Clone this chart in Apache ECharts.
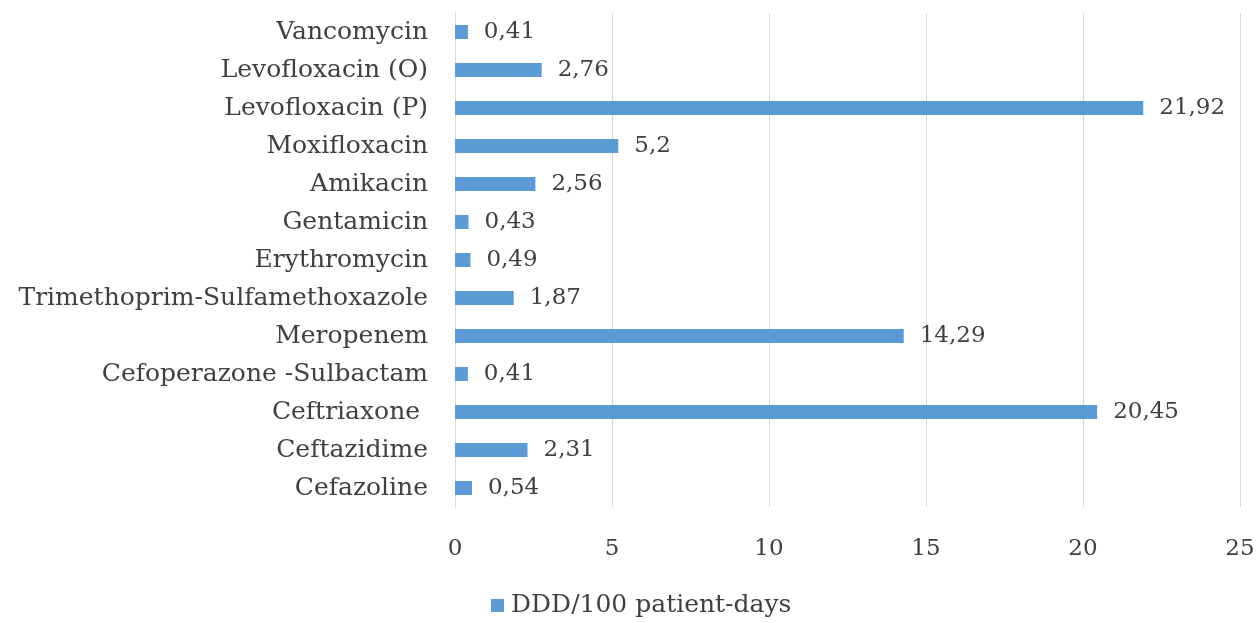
<!DOCTYPE html>
<html>
<head>
<meta charset="utf-8">
<script src="https://cdn.jsdelivr.net/npm/echarts@6/dist/echarts.min.js"></script>
<style>
  html, body { margin: 0; padding: 0; background: #fff; }
  #chart { width: 1258px; height: 623px; }
</style>
</head>
<body>
<div id="chart"></div>
<script>
// Antibiotic consumption, listed bottom-to-top as drawn on the category axis
const drugs = [
  'Cefazoline', 'Ceftazidime', 'Ceftriaxone ', 'Cefoperazone -Sulbactam',
  'Meropenem', 'Trimethoprim-Sulfamethoxazole', 'Erythromycin', 'Gentamicin',
  'Amikacin', 'Moxifloxacin', 'Levofloxacin (P)', 'Levofloxacin (O)', 'Vancomycin'
];
const dddValues = [0.54, 2.31, 20.45, 0.41, 14.29, 1.87, 0.49, 0.43, 2.56, 5.2, 21.92, 2.76, 0.41];
const seriesName = 'DDD/100 patient-days';
const xTicks = { min: 0, max: 25, interval: 5 };

const FONT = '"DejaVu Serif", "Liberation Serif", serif';
const TEXT = '#404040';
const BLUE = '#5B9BD5';

const chart = echarts.init(document.getElementById('chart'), null, { renderer: 'canvas' });
chart.setOption({
  animation: false,
  textStyle: { fontFamily: FONT },
  grid: { left: 455, right: 18, top: 13, bottom: 116, containLabel: false },
  legend: {
    bottom: 0,
    left: 486,
    itemWidth: 13,
    itemHeight: 13,
    itemGap: 4,
    icon: 'rect',
    textStyle: { fontFamily: FONT, fontSize: 25, color: TEXT, padding: [0, 0, 0, 2] },
    data: [seriesName]
  },
  xAxis: {
    type: 'value',
    min: xTicks.min,
    max: xTicks.max,
    interval: xTicks.interval,
    axisLine: { show: false },
    axisTick: { show: false },
    axisLabel: { fontFamily: FONT, fontSize: 23, color: TEXT, margin: 31 },
    splitLine: { lineStyle: { color: '#D9D9D9', width: 1 } }
  },
  yAxis: {
    type: 'category',
    data: drugs,
    axisLine: { show: true, lineStyle: { color: '#D9D9D9', width: 1 } },
    axisTick: { show: false },
    axisLabel: { fontFamily: FONT, fontSize: 25, color: TEXT, margin: 27 }
  },
  series: [{
    name: seriesName,
    type: 'bar',
    data: dddValues,
    barWidth: 14,
    itemStyle: { color: BLUE },
    label: {
      show: true,
      position: 'right',
      distance: 16,
      fontFamily: FONT,
      fontSize: 23,
      color: TEXT,
      formatter: p => String(p.value).replace('.', ',')
    }
  }]
});
</script>
</body>
</html>
